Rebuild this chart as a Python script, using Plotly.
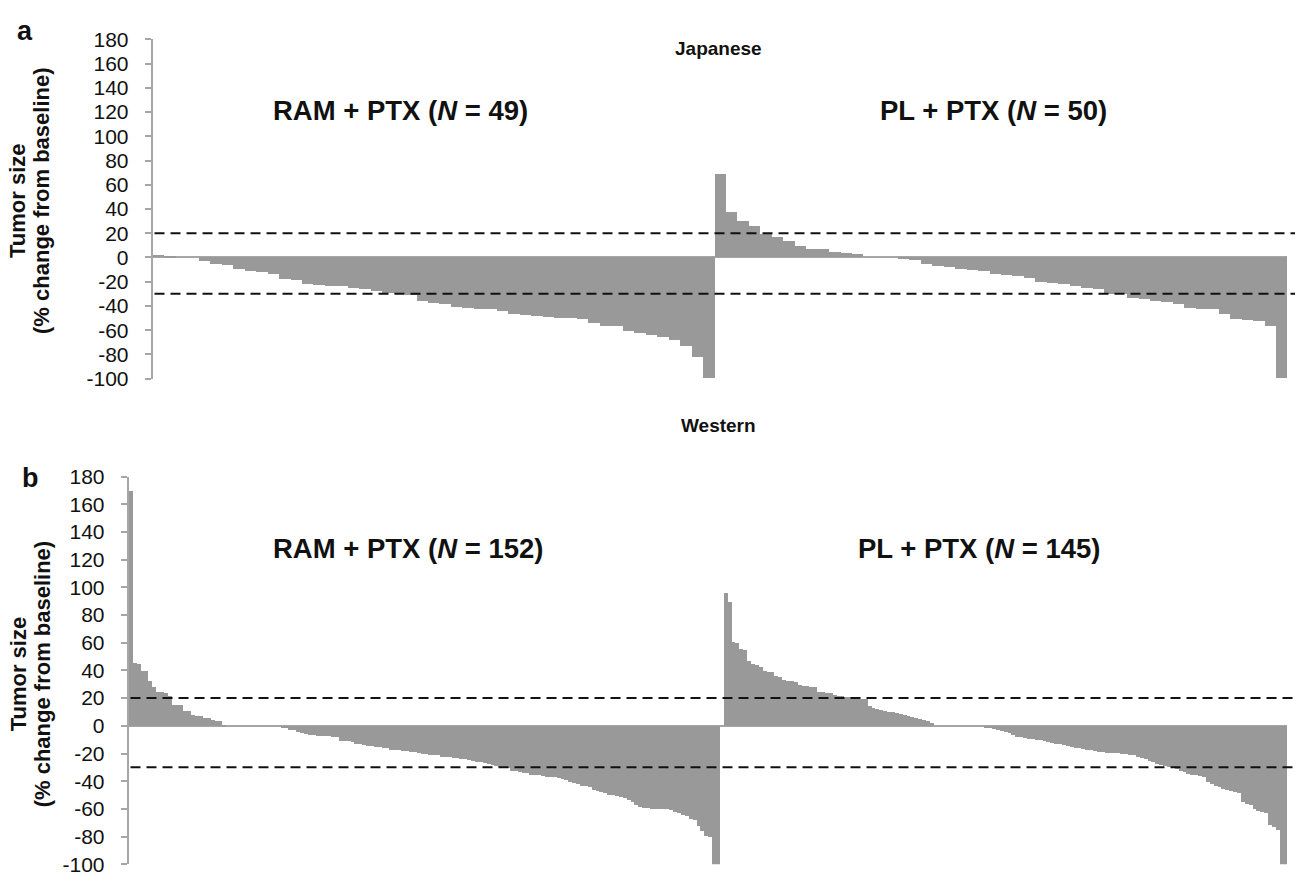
import plotly.graph_objects as go

# ---------------- data ----------------
jp_ram = [2, 0.5, 0, 0, -3, -6, -6.5, -10, -11, -12, -14, -18, -18.5, -22, -23, -24,
          -24, -25, -26, -27.5, -29.5, -30, -31, -36, -37.5, -39, -41, -42, -42.5, -43,
          -44.5, -46.5, -47.5, -48.5, -49, -50, -50.5, -51, -54, -56.5, -57, -60.5,
          -62.5, -64, -66, -68, -73, -82, -100]
jp_pl = [68.5, 37.5, 30, 26, 19.5, 17, 13.5, 9, 7, 6.5, 4, 3.5, 3, 0, 0, 0, -1.5, -2.5,
         -5.5, -7, -8, -10, -10.5, -11, -14, -14.5, -15.5, -17, -20.5, -21, -22.5, -24,
         -25, -26, -30, -30.5, -34, -34.5, -36.5, -37, -39, -42, -42.5, -43, -47, -51,
         -52, -53, -56.5, -100]
w_ram = [170, 46, 45, 40, 40, 33, 28, 24.5, 24.5, 24, 21.5, 15.5, 15, 15, 11, 11, 8, 7.5,
         7.5, 6, 6, 4.5, 4, 3.5, 1,
         0, 0, 0, 0, 0, 0, 0, 0, 0, 0, 0, 0, 0, 0,
         -1, -1.5, -2.5, -3, -4, -5, -5.5, -6, -6.5, -7, -7, -7, -7, -7.5, -8, -10.5, -11,
         -11, -11.5, -12.5, -13, -13.5, -14, -14.5, -15, -15, -15.5, -16, -17, -17, -17.5,
         -18, -18, -18.5, -18.5, -19, -20, -20, -20.5, -21, -21, -22, -22, -22.5, -23, -23,
         -23.5, -24, -24.5, -25, -25.5, -26, -26.5, -27.5, -28, -29, -29.5, -30, -30.5,
         -32, -32.5, -33, -33.5, -34, -35, -35.5, -35.5, -36, -36.5, -37, -37, -37.5, -38,
         -39, -40, -41, -42, -43, -43.5, -44, -46, -47, -47.5, -48, -49.5, -50, -50.5, -51,
         -51.5, -53, -55, -57, -58.5, -59, -59, -59.5, -59.5, -60, -60, -60, -60.5, -62,
         -63, -64, -65, -67, -68, -72, -76, -79, -80, -100, -100]
w_pl = [96, 90, 61, 60, 56, 55, 47, 45, 44, 43, 40, 39.5, 39, 36, 35.5, 33.5, 33, 32.5, 32,
        30, 29, 29, 28.5, 28.5, 25, 24.5, 24, 24, 22.5, 22, 21.5, 21, 21, 20.5, 20.5, 20,
        20, 14.5, 13.5, 12.5, 12, 11, 10.5, 10, 9.5, 8.5, 8, 7.5, 7, 6, 5, 4.5, 3.5, 2,
        0, 0, 0, 0, 0, 0, 0, 0, 0, 0, 0, 0, 0,
        -1, -1.5, -2, -3, -3.5, -4, -5, -6.5, -7.5, -8, -8.5, -9, -9.5, -10, -10, -11,
        -11.5, -12, -12.5, -13, -13.5, -14, -15, -15.5, -16, -16.5, -17, -17.5, -18, -18.5,
        -18.5, -19, -19, -19.5, -19.5, -20, -20, -20.5, -21, -22, -23, -24, -25, -26,
        -27.5, -28, -29, -29.5, -30, -31, -32, -33, -34.5, -35, -35.5, -36, -37, -40,
        -41.5, -43, -44, -45, -46, -47, -47.5, -48, -55, -56, -57, -60, -61, -62, -63,
        -71, -73, -75, -100, -100]

y_ticks = [180, 160, 140, 120, 100, 80, 60, 40, 20, 0, -20, -40, -60, -80, -100]
thresholds = [20, -30]
panel_titles = ["Japanese", "Western"]
panel_letters = ["a", "b"]
group_labels_a = ["RAM + PTX (<i>N</i> = 49)", "PL + PTX (<i>N</i> = 50)"]
group_labels_b = ["RAM + PTX (<i>N</i> = 152)", "PL + PTX (<i>N</i> = 145)"]
ytitle_lines = ["Tumor size", "(% change from baseline)"]

# ---------------- layout geometry ----------------
W, H = 1309, 885
BAR = "#999999"
AXC = "#a6a6a6"
FONT = "Arial, Liberation Sans, sans-serif"

def px_x(x):
    return x / W

def px_y(y):
    return 1 - y / H

xa_dom = [px_x(152.5), px_x(1287)]
xb_dom = [px_x(128.5), px_x(1287)]
ya_dom = [px_y(376.5), px_y(28)]
yb_dom = [px_y(875), px_y(477)]

fig = go.Figure()

na1, na2 = len(jp_ram), len(jp_pl)
fig.add_trace(go.Bar(x=list(range(na1)), y=jp_ram, width=1, marker=dict(color=BAR, line=dict(width=0)),
                     xaxis="x", yaxis="y", showlegend=False))
fig.add_trace(go.Bar(x=list(range(na1, na1 + na2)), y=jp_pl, width=1, marker=dict(color=BAR, line=dict(width=0)),
                     xaxis="x", yaxis="y", showlegend=False))
nb1, nb2 = len(w_ram), len(w_pl)
fig.add_trace(go.Bar(x=list(range(nb1)), y=w_ram, width=1, marker=dict(color=BAR, line=dict(width=0)),
                     xaxis="x2", yaxis="y2", showlegend=False))
fig.add_trace(go.Bar(x=list(range(nb1 + 1, nb1 + 1 + nb2)), y=w_pl, width=1,
                     marker=dict(color=BAR, line=dict(width=0)),
                     xaxis="x2", yaxis="y2", showlegend=False))

yax_common = dict(range=[-100, 180], tickvals=y_ticks, ticktext=[str(v) for v in y_ticks],
                  showline=True, linecolor=AXC, linewidth=1.5, ticks="outside", ticklen=6,
                  tickwidth=1.5, tickcolor=AXC, showgrid=False, zeroline=True,
                  zerolinecolor=AXC, zerolinewidth=1.5, ticklabelstandoff=12,
                  tickfont=dict(family=FONT, size=21, color="#111111"), fixedrange=True)
xax_common = dict(showline=False, showticklabels=False, ticks="", showgrid=False, zeroline=False,
                  fixedrange=True)

fig.update_layout(
    width=W, height=H, margin=dict(l=0, r=0, t=0, b=0),
    paper_bgcolor="white", plot_bgcolor="rgba(0,0,0,0)",
    barmode="overlay", bargap=0,
    xaxis=dict(domain=xa_dom, range=[-0.5, na1 + na2 - 0.5], anchor="y", **xax_common),
    yaxis=dict(domain=ya_dom, anchor="x", **yax_common),
    xaxis2=dict(domain=xb_dom, range=[-0.5, nb1 + nb2 + 0.5], anchor="y2", **xax_common),
    yaxis2=dict(domain=yb_dom, anchor="x2", **yax_common),
)

shapes = []
for ax_y, dom in [("y", xa_dom), ("y2", xb_dom)]:
    for t in thresholds:
        shapes.append(dict(type="line", xref="paper", yref=ax_y, x0=dom[0] + 2 / W, x1=px_x(1295),
                           y0=t, y1=t, line=dict(color="#111111", width=2, dash="10px,6px")))
fig.update_layout(shapes=shapes)

ann = []
def text(x, y, s, size, bold=True, angle=0, xanchor="center"):
    ann.append(dict(xref="paper", yref="paper", x=px_x(x), y=px_y(y), text=f"<b>{s}</b>" if bold else s,
                    showarrow=False, textangle=angle, xanchor=xanchor, yanchor="middle",
                    font=dict(family=FONT, size=size, color="#111111")))

text(25, 20, panel_letters[0], 27)
text(30, 478, panel_letters[1], 27)
text(718, 37, panel_titles[0], 19)
text(718, 425, panel_titles[1], 19)
text(400, 101, group_labels_a[0], 27.5)
text(993, 101, group_labels_a[1], 27.5)
text(408, 551, group_labels_b[0], 27.5)
text(979, 551, group_labels_b[1], 27.5)
for yc in (194, 680):
    text(18, yc, ytitle_lines[0], 22, angle=-90)
    text(42, yc, ytitle_lines[1], 22, angle=-90)
fig.update_layout(annotations=ann)

fig.write_html("out.html", config={"displayModeBar": False},
               post_script="document.body.style.margin='0';")
